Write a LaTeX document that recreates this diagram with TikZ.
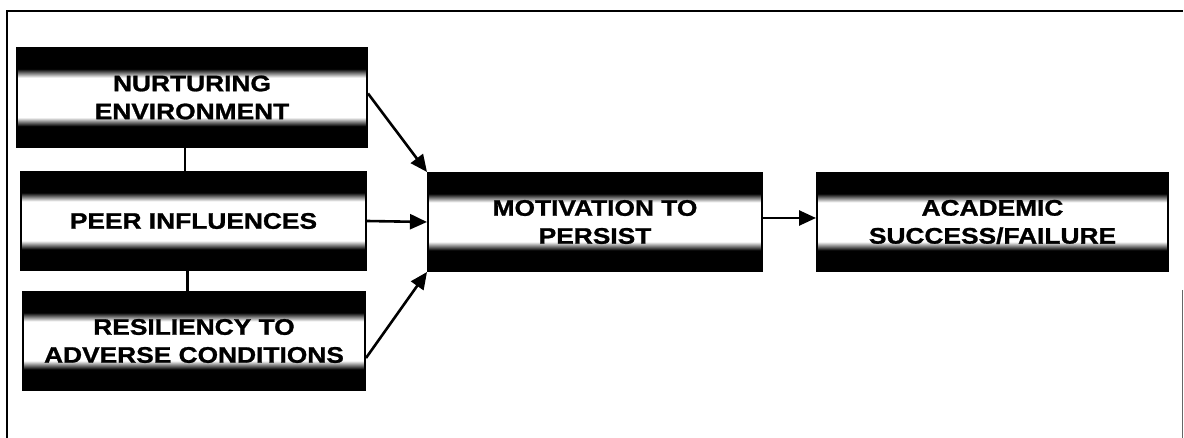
\documentclass[tikz,border=0pt]{standalone}
\usepackage{fontspec}
\newfontfamily\boxfont{Liberation Sans}[FakeStretch=1.17,FakeBold=1.2]
\usetikzlibrary{arrows.meta}
\pgfdeclareverticalshading{boxshade}{100bp}{color(0bp)=(black); color(25bp)=(black); color(35.5bp)=(black); color(40bp)=(white); color(60bp)=(white); color(64.5bp)=(black); color(75bp)=(black); color(100bp)=(black)}
\tikzset{
  box/.style={draw=black, line width=2pt, shading=boxshade, inner sep=0pt,
    align=center, font=\boxfont\bfseries\fontsize{22.5}{28}\selectfont},
  link/.style={line width=2.5pt},
  arr/.style={line width=2.6pt, -{Triangle[length=17pt,width=15pt]}},
  frame/.style={line width=2.2pt}
}
\begin{document}
\begin{tikzpicture}[x=1pt,y=-1pt]
\useasboundingbox (0,0) rectangle (1184,438);
\draw[frame] (7,438) -- (7,11) -- (1183,11);
\draw[line width=0.8pt, black!60] (1182,290) -- (1182,438);

\node[box, minimum width=350pt, minimum height=99pt] (nur) at (192,97.5) {NURTURING\\ENVIRONMENT};
\node[box, minimum width=345pt, minimum height=98pt] (peer) at (193.5,221) {PEER INFLUENCES};
\node[box, minimum width=342pt, minimum height=98pt] (res) at (194,341) {RESILIENCY TO\\ADVERSE CONDITIONS};
\node[box, minimum width=334pt, minimum height=98pt] (mot) at (595,222) {MOTIVATION TO\\PERSIST};
\node[box, minimum width=351pt, minimum height=98pt] (aca) at (992.5,222) {ACADEMIC\\SUCCESS/FAILURE};

\draw[link] ([xshift=-7pt]nur.south) -- ([xshift=-7pt]nur.south |- peer.north);
\draw[link] ([xshift=-6pt]peer.south) -- ([xshift=-6pt]peer.south |- res.north);

\draw[arr] ([yshift=4pt]nur.east) -- (mot.north west);
\draw[arr] (peer.east) -- (mot.west);
\draw[arr] ([yshift=-17pt]res.east) -- (mot.south west);
\draw[arr] ([yshift=4pt]mot.east) -- ([yshift=4pt]aca.west);
\end{tikzpicture}
\end{document}
